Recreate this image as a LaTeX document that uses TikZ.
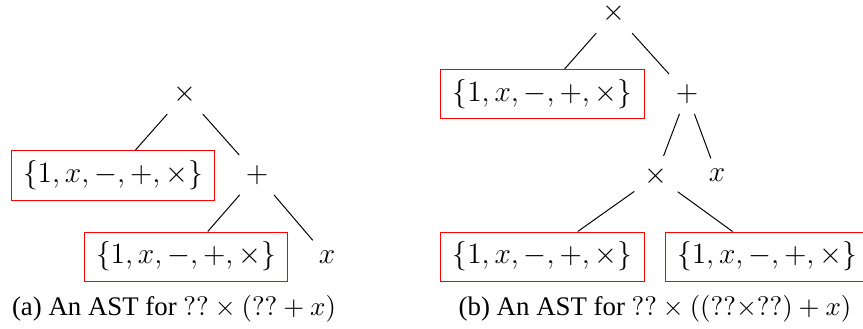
\documentclass[tikz,border=0pt]{standalone}
\usepackage{fontspec}
\setmainfont{Liberation Serif}
\begin{document}
\begin{tikzpicture}[x=0.408pt,y=-0.408pt,
  op/.style={font=\large,minimum height=15.5pt,inner sep=4pt},
  leaf/.style={font=\large,inner sep=4pt},
  hole/.style={draw=red,font=\large,inner xsep=4.8pt,inner ysep=4pt},
  subcap/.style={anchor=base,font=\fontsize{10.95}{13.6}\selectfont}]
\useasboundingbox (0,0) rectangle (863,329);
% (a)
\node[op] (r1) at (185,94) {$\times$};
\node[hole] (b1) at (113,175.5) {$\{1,x,-,+,\times\}$};
\node[op] (p1) at (257,175) {$+$};
\node[hole] (b2) at (186,256.5) {$\{1,x,-,+,\times\}$};
\node[leaf] (x1) at (327,257) {$x$};
\draw (r1)--(b1); \draw (r1)--(p1);
\draw (p1)--(b2); \draw (p1)--(x1);
\node[subcap] (ca) at (174,315) {(a) An AST for $??\times(??+x)$};
% (b)
\node[op] (r2) at (614,13) {$\times$};
\node[hole] (b3) at (542.5,94) {$\{1,x,-,+,\times\}$};
\node[op] (p2) at (687,94) {$+$};
\node[op] (t2) at (656,176) {$\times$};
\node[leaf] (x2) at (717,175) {$x$};
\node[hole] (b4) at (542.5,256.5) {$\{1,x,-,+,\times\}$};
\node[hole] (b5) at (767,256.5) {$\{1,x,-,+,\times\}$};
\draw (r2)--(b3); \draw (r2)--(p2);
\draw (p2)--(t2); \draw (p2)--(x2);
\draw (t2)--(b4); \draw (t2)--(b5);
\node[subcap] (cb) at (655,315) {(b) An AST for $??\times((??{\times}??)+x)$};
\end{tikzpicture}
\end{document}
